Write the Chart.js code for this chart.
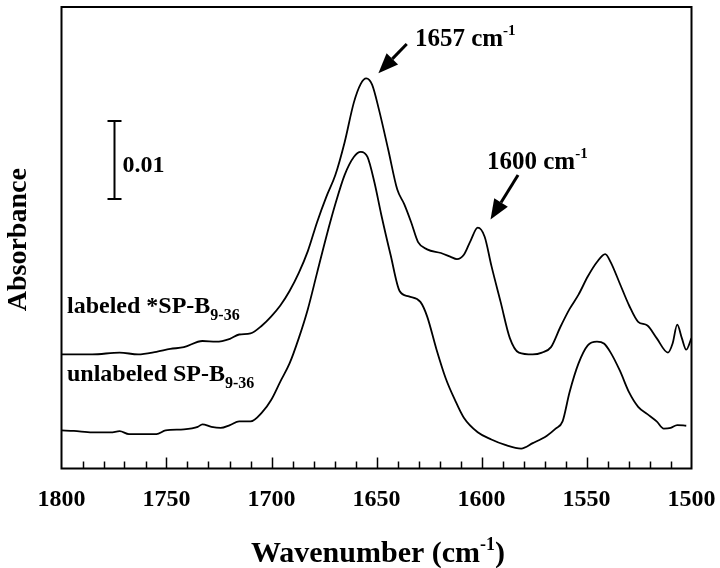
<!DOCTYPE html>
<html><head><meta charset="utf-8">
<script src="https://cdn.jsdelivr.net/npm/chart.js@4/dist/chart.umd.min.js"></script>
<style>html,body{margin:0;padding:0;background:#fff;}canvas{display:block;}</style>
</head><body>
<canvas id="c" width="720" height="568"></canvas>
<script>
// ---- data ----
const X_TICKS = [1800, 1750, 1700, 1650, 1600, 1550, 1500];
const SERIES_NAMES = ['labeled *SP-B', 'unlabeled SP-B'];
const SERIES_SUB = '9-36';
const PEAK_LABELS = ['1657', '1600'];
const SCALE_BAR_VALUE = 0.01;

const WN_LABELED = [1800,1785.4,1772.3,1763.5,1754.8,1748.2,1741.7,1732.9,1726.4,1719.8,1715.4,1710.0,1704.5,1700.1,1695.8,1691.4,1687.0,1682.7,1678.3,1673.9,1669.6,1665.2,1660.8,1657.5,1654.9,1652.1,1648.8,1644.4,1640.1,1636.8,1633.5,1630.2,1625.9,1619.3,1614.9,1611.7,1608.4,1605.1,1601.8,1598.5,1595.3,1590.9,1586.5,1582.2,1575.6,1571.2,1566.9,1562.5,1558.1,1553.8,1549.4,1545.0,1541.1,1538.5,1534.1,1529.7,1525.4,1521.0,1516.6,1511.2,1509.0,1506.8,1504.6,1502.5,1500.0];
const ABS_LABELED = [0.01463,0.01463,0.01486,0.01463,0.01496,0.01533,0.01556,0.01635,0.01626,0.01663,0.01718,0.01732,0.01834,0.01951,0.02090,0.02276,0.02508,0.02787,0.03158,0.03483,0.03762,0.04180,0.04691,0.04932,0.05002,0.04923,0.04598,0.04087,0.03576,0.03390,0.03158,0.02903,0.02810,0.02763,0.02717,0.02684,0.02740,0.02926,0.03088,0.02972,0.02601,0.02136,0.01672,0.01486,0.01463,0.01486,0.01556,0.01811,0.02043,0.02229,0.02461,0.02647,0.02749,0.02647,0.02369,0.02090,0.01881,0.01834,0.01672,0.01486,0.01602,0.01844,0.01672,0.01523,0.01672];

const WN_UNLABELED = [1800,1794.1,1785.4,1776.6,1772.3,1767.9,1754.8,1750.4,1741.7,1735.1,1732.9,1728.6,1724.2,1719.8,1715.4,1710.0,1704.5,1700.1,1695.8,1691.4,1687.0,1682.7,1678.3,1673.9,1669.6,1665.2,1660.8,1657.5,1654.3,1651.0,1647.7,1643.3,1639.0,1634.6,1629.1,1625.9,1621.5,1617.1,1612.7,1608.4,1601.8,1595.3,1588.7,1581.1,1575.6,1569.0,1564.7,1561.4,1558.1,1553.8,1549.4,1545.0,1541.7,1538.5,1534.1,1529.7,1525.4,1521.0,1516.6,1513.2,1509.9,1506.8,1502.5];
const ABS_UNLABELED = [0.00488,0.00483,0.00464,0.00464,0.00478,0.00441,0.00441,0.00488,0.00502,0.00534,0.00567,0.00534,0.00520,0.00557,0.00604,0.00604,0.00720,0.00882,0.01115,0.01347,0.01672,0.02043,0.02508,0.02972,0.03390,0.03762,0.03994,0.04059,0.03994,0.03669,0.03251,0.02740,0.02276,0.02206,0.02136,0.01951,0.01533,0.01161,0.00882,0.00650,0.00464,0.00372,0.00302,0.00256,0.00325,0.00418,0.00511,0.00604,0.00975,0.01347,0.01579,0.01626,0.01602,0.01486,0.01254,0.00975,0.00790,0.00697,0.00604,0.00511,0.00520,0.00557,0.00548];

// ---- layout (annotation anchors in data units) ----
const LAYOUT = {
  arrows: [
    { tail: [1635.6, 0.05442], tip: [1649.1, 0.05068], text: [1631.7, 0.05417] },
    { tail: [1582.6, 0.03763], tip: [1595.7, 0.03192], text: [1597.4, 0.03840] }
  ],
  scaleBar: { x: 1775.0, y0: 0.03455 },
  seriesLabels: [ [1797.4, 0.01994], [1797.4, 0.01122] ]
};

const FONT = '"Liberation Serif", "Times New Roman", Times, serif';
function setFont(ctx, size){ ctx.font = 'bold ' + size + 'px ' + FONT; }
function drawRich(ctx, parts, x, y, align){
  let w = 0;
  for (const p of parts){ setFont(ctx, p.size); w += ctx.measureText(p.t).width; }
  let cx = align === 'center' ? x - w/2 : x;
  for (const p of parts){ setFont(ctx, p.size); ctx.fillText(p.t, cx, y + (p.dy||0)); cx += ctx.measureText(p.t).width; }
}
function arrow(ctx, x0, y0, x1, y1){
  const ang = Math.atan2(y1-y0, x1-x0);
  const L = 20, W = 8;
  const bx = x1 - L*Math.cos(ang), by = y1 - L*Math.sin(ang);
  ctx.lineWidth = 3;
  ctx.beginPath(); ctx.moveTo(x0,y0); ctx.lineTo(bx,by); ctx.stroke();
  ctx.beginPath();
  ctx.moveTo(x1,y1);
  ctx.lineTo(bx + W*Math.sin(ang), by - W*Math.cos(ang));
  ctx.lineTo(bx - W*Math.sin(ang), by + W*Math.cos(ang));
  ctx.closePath(); ctx.fill();
}

const decor = {
  id: 'decor',
  afterDraw(chart){
    const ctx = chart.ctx, a = chart.chartArea;
    const xs = chart.scales.x, ys = chart.scales.y;
    ctx.save();
    ctx.fillStyle = '#000'; ctx.strokeStyle = '#000';
    ctx.textBaseline = 'alphabetic'; ctx.textAlign = 'left';
    // frame
    ctx.lineWidth = 2;
    ctx.strokeRect(a.left, a.top, a.right - a.left, a.bottom - a.top);
    // inward ticks every 10
    ctx.lineWidth = 1.5;
    for (let v = 1790; v > 1500; v -= 10){
      const px = Math.round(xs.getPixelForValue(v)) + 0.5;
      const len = (v % 50 === 0) ? 11 : 7;
      ctx.beginPath(); ctx.moveTo(px, a.bottom); ctx.lineTo(px, a.bottom - len); ctx.stroke();
    }
    // tick labels
    ctx.textAlign = 'center'; setFont(ctx, 24);
    for (const t of X_TICKS){ ctx.fillText(String(t), xs.getPixelForValue(t), a.bottom + 37); }
    ctx.textAlign = 'left';
    // axis titles
    drawRich(ctx, [{t:'Wavenumber (cm', size:30},{t:'-1', size:18, dy:-12},{t:')', size:30}], (a.left+a.right)/2 + 1.5, 562, 'center');
    ctx.save();
    ctx.translate(26, (a.top + a.bottom)/2 + 2);
    ctx.rotate(-Math.PI/2);
    ctx.textAlign = 'center'; setFont(ctx, 28);
    ctx.fillText('Absorbance', 0, 0);
    ctx.restore();
    // scale bar
    const sb = LAYOUT.scaleBar;
    const bx = Math.round(xs.getPixelForValue(sb.x)) + 0.5;
    const by0 = ys.getPixelForValue(sb.y0), by1 = ys.getPixelForValue(sb.y0 + SCALE_BAR_VALUE);
    ctx.lineWidth = 2;
    ctx.beginPath();
    ctx.moveTo(bx, by0); ctx.lineTo(bx, by1);
    ctx.moveTo(bx-7, by0); ctx.lineTo(bx+7, by0);
    ctx.moveTo(bx-7, by1); ctx.lineTo(bx+7, by1);
    ctx.stroke();
    setFont(ctx, 24);
    ctx.fillText(String(SCALE_BAR_VALUE), bx + 8, (by0+by1)/2 + 12);
    // peak annotations
    LAYOUT.arrows.forEach((ar, i) => {
      arrow(ctx, xs.getPixelForValue(ar.tail[0]), ys.getPixelForValue(ar.tail[1]),
                 xs.getPixelForValue(ar.tip[0]), ys.getPixelForValue(ar.tip[1]));
      drawRich(ctx, [{t: PEAK_LABELS[i] + ' cm', size:25},{t:'-1', size:15, dy:-11}],
        xs.getPixelForValue(ar.text[0]), ys.getPixelForValue(ar.text[1]), 'left');
    });
    // series labels
    LAYOUT.seriesLabels.forEach((p, i) => {
      drawRich(ctx, [{t: SERIES_NAMES[i], size:24},{t: SERIES_SUB, size:16, dy:7}],
        xs.getPixelForValue(p[0]), ys.getPixelForValue(p[1]), 'left');
    });
    ctx.restore();
  }
};

function pts(xa, ya){ return xa.map((x, i) => ({x: x, y: ya[i]})); }
const LINE_STYLE = { borderColor: '#000', backgroundColor: '#000', borderWidth: 1.8, pointRadius: 0, fill: false, cubicInterpolationMode: 'monotone' };

new Chart(document.getElementById('c'), {
  type: 'line',
  data: {
    datasets: [
      Object.assign({ label: SERIES_NAMES[0], data: pts(WN_LABELED, ABS_LABELED) }, LINE_STYLE),
      Object.assign({ label: SERIES_NAMES[1], data: pts(WN_UNLABELED, ABS_UNLABELED) }, LINE_STYLE)
    ]
  },
  options: {
    responsive: false, animation: false, devicePixelRatio: 1,
    layout: { padding: { left: 61.5, right: 28.5, top: 7, bottom: 99.5 } },
    plugins: { legend: { display: false }, tooltip: { enabled: false } },
    scales: {
      x: { type: 'linear', min: 1500, max: 1800, reverse: true, display: false },
      y: { type: 'linear', min: 0, max: 0.05917, display: false }
    }
  },
  plugins: [decor]
});
</script>
</body></html>
